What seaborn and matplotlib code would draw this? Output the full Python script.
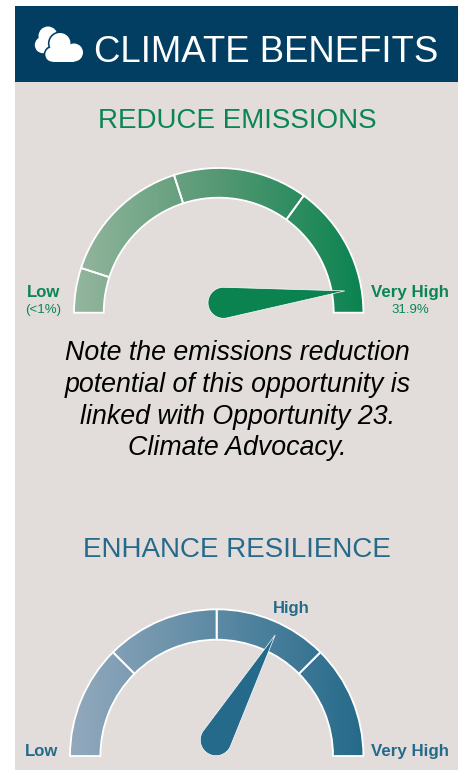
import numpy as np
import matplotlib
matplotlib.use("Agg")
import matplotlib.pyplot as plt
from matplotlib.patches import Wedge, Circle, Rectangle, Polygon
import seaborn as sns

# --- data -------------------------------------------------------------
header_title = "CLIMATE BENEFITS"
gauge_titles = ["REDUCE EMISSIONS", "ENHANCE RESILIENCE"]
note_lines = ["Note the emissions reduction",
              "potential of this opportunity is",
              "linked with Opportunity 23.",
              "Climate Advocacy."]
emission_breaks = [180, 162, 108, 54, 0]     # segment boundaries, degrees
resilience_breaks = [180, 135, 90, 45, 0]
emission_needle_deg = 9.8
resilience_needle_deg = 64.2
emission_labels = ["Low", "(<1%)", "Very High", "31.9%"]
resilience_labels = ["Low", "High", "Very High"]

NAVY, PANEL = "#023E62", "#E2DDDB"
GREEN, GREEN_M, GREEN_L, GREEN_TXT = "#0A8350", "#559873", "#94B69E", "#0B8553"
BLUE, BLUE_L = "#256A8A", "#93A9BD"

sns.set_theme(style="white")
plt.rcParams["font.family"] = ["Liberation Sans", "DejaVu Sans"]

fig = plt.figure(figsize=(4.62, 7.70), dpi=100)
ax = fig.add_axes([0, 0, 1, 1])
ax.set_axis_off()

ax.add_patch(Rectangle((15, 6), 443, 764, fc=PANEL, ec="none", zorder=0))
ax.add_patch(Rectangle((15, 6), 443, 75.5, fc=NAVY, ec="none", zorder=1))


def cloud():
    for (x, y, r) in [(48, 36, 9.5), (43, 45, 8.2)]:
        ax.add_patch(Circle((x, y), r, fc="white", ec="none", zorder=2))
    front = [(52.5, 54.5, 7.2), (60, 43.5, 10.5), (74, 52.5, 9)]
    for (x, y, r) in front:
        ax.add_patch(Circle((x, y), r + 1.6, fc=NAVY, ec="none", zorder=3))
    for (x, y, r) in front:
        ax.add_patch(Circle((x, y), r, fc="white", ec="none", zorder=4))
    ax.add_patch(Rectangle((52.5, 48), 21.5, 13.7, fc="white", ec="none", zorder=4))


cloud()


def gauge(cx, cy, r_out, r_in, breaks, colors):
    cmap = sns.blend_palette(colors, as_cmap=True)
    grad = np.linspace(0, 1, 256).reshape(1, -1)
    for a1, a2 in zip(breaks[:-1], breaks[1:]):
        w = Wedge((cx, cy), r_out, -a1, -a2, width=r_out - r_in,
                  fc="none", ec="none", transform=ax.transData)
        ax.add_patch(w)
        im = ax.imshow(grad, cmap=cmap, aspect="auto", vmin=0, vmax=1, zorder=2,
                       extent=(cx - r_out, cx + r_out, cy, cy - r_out))
        im.set_clip_path(w)
        ax.add_patch(Wedge((cx, cy), r_out, -a1, -a2, width=r_out - r_in,
                           fc="none", ec="white", lw=1.3, zorder=3))


def needle(hx, hy, hr, tx, ty, color):
    d = np.hypot(tx - hx, ty - hy)
    base = np.arctan2(ty - hy, tx - hx)
    off = np.arccos(hr / d)
    arc = np.linspace(base + off, base + 2 * np.pi - off, 60)
    pts = np.column_stack([hx + hr * np.cos(arc), hy + hr * np.sin(arc)])
    pts = np.vstack([[tx, ty], pts])
    ax.add_patch(Polygon(pts, closed=True, fc=color, ec="white", lw=0.5, zorder=5))


def tip(cx, cy, r, deg):
    return cx + r * np.cos(np.radians(deg)), cy - r * np.sin(np.radians(deg))


gauge(218.7, 312.7, 144.7, 115, emission_breaks, [GREEN_L, GREEN_M, GREEN])
gauge(216.7, 756, 146.7, 116.3, resilience_breaks, [BLUE_L, BLUE])

needle(223.5, 302.8, 15.5, *tip(218.7, 312.7, 128, emission_needle_deg), GREEN)
needle(216, 740, 15.7, *tip(216.7, 756, 134.4, resilience_needle_deg), BLUE)

ax.text(266, 52.5, header_title, color="white", fontsize=26.3, ha="center", va="center", zorder=6)
ax.text(237, 121.5, gauge_titles[0], color=GREEN_TXT, fontsize=20, ha="center", va="center")
ax.text(237, 550, gauge_titles[1], color=BLUE, fontsize=20, ha="center", va="center")

for line, y in zip(note_lines, [353, 385, 417, 448]):
    ax.text(237.5, y, line, color="black", fontsize=19.3, style="italic", ha="center", va="center")

ax.text(43, 292.5, emission_labels[0], color=GREEN_TXT, fontsize=12, weight="bold", ha="center", va="center")
ax.text(43, 310, emission_labels[1], color=GREEN_TXT, fontsize=9.5, ha="center", va="center")
ax.text(410, 292.5, emission_labels[2], color=GREEN_TXT, fontsize=12.2, weight="bold", ha="center", va="center")
ax.text(410, 310, emission_labels[3], color=GREEN_TXT, fontsize=9.5, ha="center", va="center")

ax.text(41.5, 751.5, resilience_labels[0], color=BLUE, fontsize=12, weight="bold", ha="center", va="center")
ax.text(291.5, 608.5, resilience_labels[1], color=BLUE, fontsize=12, weight="bold", ha="center", va="center")
ax.text(410, 751.5, resilience_labels[2], color=BLUE, fontsize=12.2, weight="bold", ha="center", va="center")

ax.set_xlim(0, 462)
ax.set_ylim(770, 0)
sns.despine(ax=ax, left=True, bottom=True)
fig.savefig("out.png", dpi=100, facecolor="white")
